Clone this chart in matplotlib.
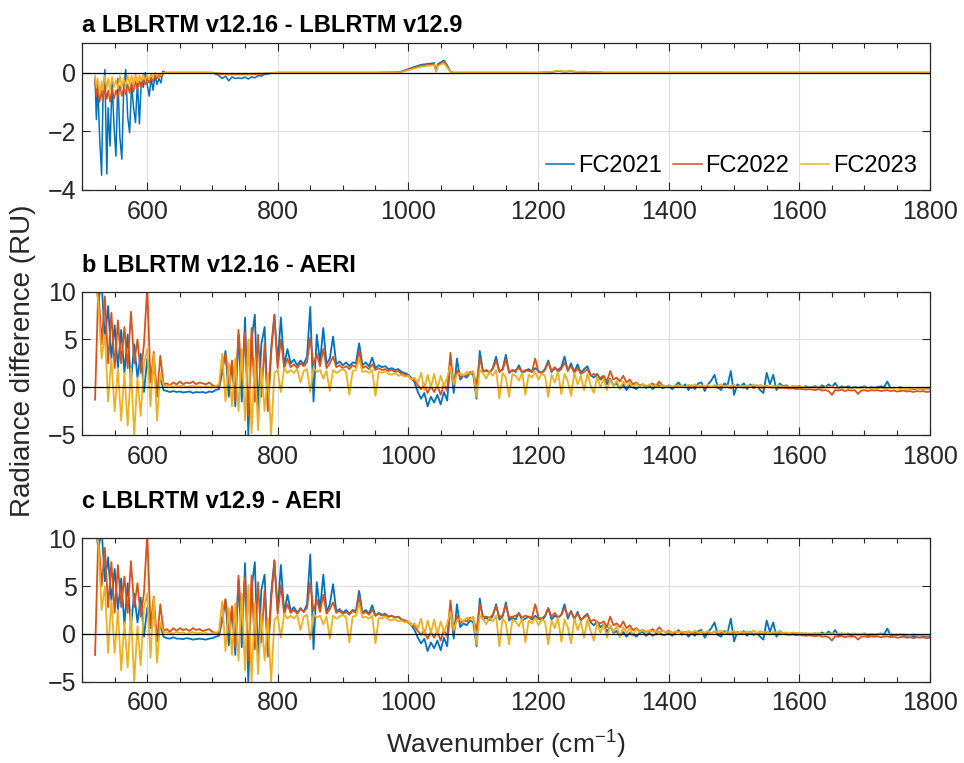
"""
Radiance differences between LBLRTM versions and AERI observations
for three field campaigns (FC2021, FC2022, FC2023).
"""

import numpy as np
import matplotlib
matplotlib.use("Agg")
import matplotlib.pyplot as plt
from matplotlib.ticker import MultipleLocator

plt.rcParams["font.family"] = ["Liberation Sans", "DejaVu Sans"]
plt.rcParams["mathtext.fontset"] = "custom"
plt.rcParams["mathtext.rm"] = "Liberation Sans"
plt.rcParams["mathtext.it"] = "Liberation Sans"

CAMPAIGNS = ["FC2021", "FC2022", "FC2023"]
COLORS = ["#0072BD", "#D95319", "#EDB120"]

# ── panel a: LBLRTM v12.16 - LBLRTM v12.9 ───────────────────────────────────
wn_a = [
    520, 522, 524, 527, 530, 532, 535, 538, 540, 543,
    546, 549, 552, 555, 558, 561, 564, 567, 570, 573,
    576, 579, 582, 585, 588, 591, 594, 597, 600, 603,
    606, 609, 612, 615, 618, 621, 624, 628, 640, 660,
    680, 700, 705, 710, 715, 720, 725, 730, 735, 740,
    745, 750, 755, 760, 765, 770, 775, 780, 785, 790,
    795, 800, 850, 900, 950, 980, 990, 1000, 1010, 1020,
    1030, 1035, 1040, 1043, 1046, 1050, 1055, 1060, 1065, 1070,
    1100, 1150, 1200, 1220, 1230, 1240, 1250, 1260, 1270, 1280,
    1290, 1300, 1350, 1400, 1500, 1600, 1700, 1800,
]
fc2021_a = [
    -0.2, -1.6, -0.4, -2.2, -3.5, -1.0, 0.1, -3.45, -1.2, -2.5,
    -0.3, -1.8, -2.85, -0.2, -2.2, -2.95, -0.5, 0.1, -1.5, -2.05,
    -0.4, -1.2, -1.7, -0.3, -1.75, -0.2, -0.5, 0.0, -0.4, -0.8,
    -0.2, -0.6, -0.1, -0.4, -0.2, -0.35, 0.05, 0.0, 0.0, 0.0,
    0.0, 0.0, -0.05, -0.1, -0.2, -0.12, -0.28, -0.15, -0.2, -0.18,
    -0.2, -0.15, -0.22, -0.14, -0.18, -0.1, -0.12, -0.06, -0.05, -0.02,
    -0.01, 0.0, 0.0, 0.0, 0.0, 0.01, 0.04, 0.12, 0.2, 0.27,
    0.3, 0.31, 0.33, 0.05, 0.3, 0.35, 0.42, 0.25, 0.03, 0.0,
    0.0, 0.0, 0.0, 0.02, 0.06, 0.03, 0.05, 0.02, 0.03, 0.01,
    0.02, 0.0, 0.0, 0.0, 0.0, 0.0, 0.0, 0.0,
]
fc2022_a = [
    -0.3, -0.8, -0.5, -1.0, -0.6, -0.95, -0.5, -0.9, -0.6, -1.0,
    -0.5, -0.9, -0.6, -0.85, -0.45, -0.8, -0.5, -0.75, -0.4, -0.7,
    -0.35, -0.65, -0.3, -0.55, -0.3, -0.5, -0.25, -0.4, -0.2, -0.35,
    -0.15, -0.3, -0.1, -0.2, -0.1, -0.15, -0.05, 0.0, 0.0, 0.0,
    0.0, 0.0, -0.02, -0.04, -0.06, -0.05, -0.07, -0.06, -0.07, -0.06,
    -0.07, -0.06, -0.07, -0.05, -0.06, -0.04, -0.05, -0.03, -0.02, -0.01,
    0.0, 0.0, 0.0, 0.0, 0.0, 0.01, 0.03, 0.1, 0.17, 0.23,
    0.26, 0.27, 0.29, 0.04, 0.26, 0.3, 0.36, 0.2, 0.02, 0.0,
    0.0, 0.0, 0.0, 0.02, 0.05, 0.03, 0.04, 0.02, 0.03, 0.01,
    0.02, 0.0, 0.0, 0.0, 0.0, 0.0, 0.0, 0.0,
]
fc2023_a = [
    -0.1, -0.5, -0.2, -0.7, -0.3, -0.6, -0.1, -0.55, -0.2, -0.6,
    -0.15, -0.5, -0.25, -0.55, -0.1, -0.5, -0.2, -0.45, -0.1, -0.4,
    -0.1, -0.4, -0.05, -0.35, -0.1, -0.3, -0.05, -0.25, -0.1, -0.2,
    -0.05, -0.15, 0.0, -0.1, -0.05, -0.08, 0.0, 0.0, 0.0, 0.0,
    0.0, 0.0, -0.01, -0.02, -0.03, -0.03, -0.04, -0.03, -0.04, -0.03,
    -0.04, -0.03, -0.04, -0.03, -0.03, -0.02, -0.03, -0.02, -0.01, -0.01,
    0.0, 0.0, 0.0, 0.0, 0.0, 0.01, 0.02, 0.08, 0.14, 0.2,
    0.23, 0.24, 0.26, 0.03, 0.23, 0.27, 0.32, 0.18, 0.02, 0.0,
    0.0, 0.0, 0.0, 0.03, 0.07, 0.04, 0.06, 0.03, 0.04, 0.02,
    0.02, 0.0, 0.0, 0.0, 0.0, 0.0, 0.0, 0.0,
]

# ── panels b and c share one 5 cm-1 grid, 520-1800 cm-1 ────────────────────
wn_bc = np.arange(520, 1801, 5)

# b: LBLRTM v12.16 - AERI   (one row = 100 cm-1)
fc2021_b = [
    12.0, 9.0, 11.0, 5.0, 8.5, 3.0, 6.5, 2.0, 6.0, 1.5, 5.5, 0.5, 4.5, 1.0, 3.5, -0.5, 3.0, 0.5, 2.0, -0.5,
    1.0, -0.3, -0.4, -0.5, -0.4, -0.5, -0.45, -0.55, -0.5, -0.45, -0.6, -0.5, -0.55, -0.5, -0.6, -0.45, -0.5, -0.3, -0.2, 1.5,
    3.8, -1.0, 2.5, -2.0, 5.5, -1.5, 7.3, -5.0, 5.0, 7.6, -2.6, 4.5, 6.3, -2.0, 4.0, 7.6, 2.5, 7.3, 2.3, 4.0,
    2.5, 2.9, 2.3, 2.8, 2.4, 3.2, 8.4, -1.5, 5.5, 2.6, 6.2, 2.4, 3.0, 5.3, 2.4, 2.7, 2.3, 2.6, 2.2, 2.6,
    2.5, 4.6, 2.3, 2.6, 2.2, 3.1, 2.0, 2.3, 2.1, 2.2, 1.9, 2.0, 1.8, 1.9, 1.6, 1.5, 1.3, 1.0, 0.5, -0.5,
    -1.2, -0.6, -2.0, -1.0, -1.6, -0.8, -1.8, -0.5, -1.4, 2.8, -0.6, 3.0, 0.8, 1.2, 1.0, 1.5, 1.3, -1.2, 3.8, 1.6,
    1.8, 1.5, 2.0, 3.2, 1.6, 1.9, 3.4, 1.5, 1.8, 1.6, 2.3, 1.5, 1.7, 1.9, 1.6, 2.0, 1.7, 1.5, 1.9, 2.8,
    1.6, 2.0, 1.8, 2.1, 3.2, 1.7, 2.5, 1.6, 2.4, 1.5, 1.9, 2.2, 1.3, 1.0, 1.4, 0.8, 1.1, 0.3, 0.9, 0.2,
    0.4, -0.2, 0.3, -0.3, 0.2, 0.0, -0.2, 0.1, 0.3, -0.1, 0.2, -0.2, 0.1, 0.2, -0.1, 0.0, 0.1, -0.2, 0.2, 0.5,
    0.0, 0.3, -0.3, 0.2, -0.2, 0.4, 0.5, -0.4, 0.3, 0.7, 1.3, 0.0, -0.3, 0.4, 0.2, 1.7, -0.8, 0.3, 0.1, 0.4,
    -0.2, 0.3, 0.0, 0.2, -0.3, -0.6, 1.5, 0.3, 1.3, -0.3, 0.4, 0.1, 0.2, 0.0, 0.1, 0.05, 0.1, 0.0, 0.1, 0.0,
    0.05, 0.1, -0.05, 0.2, 0.0, 0.3, 0.0, 0.45, -0.1, 0.1, 0.0, 0.1, -0.1, 0.05, -0.05, 0.0, 0.1, -0.1, 0.0, -0.05,
    0.0, 0.1, 0.0, 0.6, -0.1, -0.05, -0.1, 0.0, -0.1, -0.15, -0.1, -0.2, -0.15, -0.1, -0.2, -0.15, -0.2,
]
fc2022_b = [
    -1.3, 10.5, 4.5, 9.5, 2.5, 7.8, 2.0, 7.0, 2.5, 6.3, 2.0, 7.9, 2.5, 5.0, 1.5, 4.5, 10.5, 0.5, 3.7, -1.0,
    3.3, 0.3, 0.4, 0.2, 0.5, 0.3, 0.6, 0.3, 0.5, 0.4, 0.6, 0.3, 0.5, 0.4, 0.3, 0.5, 0.2, 0.1, 0.0, 2.0,
    3.5, 0.5, 2.8, -1.5, 6.0, 1.0, 5.8, -3.0, 6.2, -1.5, 5.5, -1.0, 4.5, -2.5, 3.5, 7.5, 2.0, 5.0, 2.0, 3.0,
    2.1, 2.4, 2.0, 2.5, 2.2, 2.6, 5.2, 2.3, 3.5, 2.2, 4.0, 2.0, 2.5, 3.2, 2.1, 2.3, 2.0, 2.2, 1.9, 2.3,
    2.1, 3.8, 2.0, 2.2, 1.9, 2.4, 1.8, 2.0, 1.8, 1.9, 1.7, 1.8, 1.6, 1.7, 1.4, 1.3, 1.2, 0.9, 0.7, 0.2,
    -0.2, 0.3, -0.6, 0.1, -0.5, 0.2, -0.8, 0.3, -0.4, 3.6, 0.2, 1.8, 1.0, 1.3, 1.2, 1.6, 1.5, 0.3, 3.0, 1.7,
    1.7, 1.6, 1.9, 2.8, 1.7, 1.8, 2.9, 1.6, 1.7, 1.8, 2.0, 1.6, 1.8, 1.7, 1.6, 3.0, 1.6, 1.5, 1.8, 2.6,
    1.7, 2.1, 1.6, 1.9, 2.6, 1.8, 2.2, 1.5, 2.0, 1.4, 1.6, 1.9, 1.2, 1.4, 1.1, 1.0, 1.2, 0.6, 1.7, 0.8,
    1.0, 0.6, 1.2, 0.5, 0.8, 0.3, 0.5, 0.2, 0.3, 0.1, 0.2, 0.4, 0.1, 0.6, 0.2, 0.1, 0.2, 0.0, 0.1, 0.2,
    0.1, 0.0, 0.2, -0.1, 0.1, 0.0, 0.15, -0.1, 0.1, 0.0, 0.2, -0.1, 0.05, 0.1, 0.0, -0.1, 0.1, 0.0, 0.05, -0.05,
    0.0, 0.1, -0.1, 0.05, 0.0, -0.1, 0.1, 0.0, -0.05, 0.0, -0.1, -0.05, -0.1, -0.15, -0.1, -0.2, -0.15, -0.2, -0.25, -0.2,
    -0.25, -0.3, -0.2, -0.35, -0.3, -0.4, -0.8, -0.3, -0.35, -0.25, -0.4, -0.3, -0.35, -0.3, -0.7, -0.35, -0.3, -0.4, -0.3, -0.35,
    -0.3, -0.4, -0.35, -0.3, -0.4, -0.35, -0.45, -0.4, -0.35, -0.45, -0.4, -0.5, -0.4, -0.45, -0.4, -0.5, -0.45,
]
fc2023_b = [
    11.0, 9.0, 3.0, 5.5, -1.5, 3.0, -2.5, 2.0, -3.5, 1.5, -4.0, 2.0, -5.0, 1.0, -3.0, 2.5, 4.0, -2.0, 3.5, -3.5,
    1.5, 0.2, 0.1, 0.2, 0.0, 0.15, 0.1, 0.2, 0.0, 0.1, 0.15, 0.05, 0.1, 0.0, 0.1, 0.05, 0.0, 0.1, 0.3, 3.5,
    -1.5, 2.5, -2.0, 3.0, -2.5, 4.0, -3.5, 5.0, -4.8, 3.0, -4.5, 2.0, -2.5, 1.5, -5.0, 1.5, 1.8, -0.5, 2.0, 1.5,
    1.8, 1.5, 1.9, 0.5, 1.7, 1.9, -0.5, 2.0, 1.6, 1.8, 0.9, 1.7, -0.4, 1.8, 1.5, 1.7, 1.9, 1.6, -0.8, 1.7,
    1.8, 3.0, 1.6, 1.7, 1.5, 1.8, -0.9, 1.6, 1.5, 1.7, 1.4, 1.3, 1.5, 1.2, 1.3, 1.1, 1.2, 0.8, 1.0, 0.5,
    1.5, -0.3, 1.3, 0.0, 1.4, -0.2, 1.2, 0.1, 1.0, 2.2, 0.3, 1.3, 1.5, 1.2, 1.6, 1.4, 1.7, -1.0, 1.8, 1.5,
    0.9, 1.6, 1.2, 1.8, -1.2, 1.5, 1.0, -1.0, 1.4, 1.2, 0.7, 1.5, -0.8, 1.3, 1.0, 1.6, 0.8, 1.4, 1.2, -1.0,
    1.3, 0.5, 1.6, -0.7, 1.4, 0.6, -0.9, 1.5, 0.3, 1.2, -0.3, 1.4, 0.2, -0.6, 1.1, 0.0, 0.9, -0.3, 0.8, 0.1,
    0.7, -0.2, 0.6, 0.0, 0.5, -0.1, 0.4, 0.1, 0.3, 0.0, 0.3, 0.1, 0.2, 0.0, 0.2, 0.1, 0.15, 0.05, 0.2, 0.1,
    0.2, 0.0, 0.25, 0.1, 0.3, 0.05, 0.2, 0.1, 0.25, 0.0, 0.2, 0.15, 0.3, 0.05, 0.2, 0.1, 0.25, 0.0, 0.15, 0.1,
    0.2, 0.1, 0.3, 0.05, 0.25, 0.1, 0.2, 0.0, 0.15, 0.1, 0.2, 0.05, 0.1, 0.0, 0.1, 0.05, 0.0, 0.05, -0.05, 0.0,
    0.0, -0.05, 0.05, -0.1, 0.0, -0.05, 0.05, -0.1, 0.0, -0.05, 0.0, -0.1, -0.05, 0.0, -0.1, -0.05, 0.0, -0.1, -0.05, -0.1,
    -0.1, -0.05, -0.15, -0.1, -0.05, -0.15, -0.1, -0.2, -0.1, -0.15, -0.2, -0.1, -0.15, -0.2, -0.15, -0.2, -0.2,
]

# c: LBLRTM v12.9 - AERI
fc2021_c = [
    12.0, 8.8, 11.0, 5.5, 8.0, 3.5, 6.8, 2.5, 5.8, 1.0, 5.3, 0.8, 4.2, 1.2, 3.8, -0.3, 2.8, 0.6, 2.2, -0.4,
    0.9, -0.3, -0.45, -0.5, -0.35, -0.5, -0.5, -0.55, -0.45, -0.5, -0.6, -0.55, -0.5, -0.55, -0.6, -0.5, -0.45, -0.3, -0.2, 1.4,
    3.6, -1.2, 2.7, -2.2, 5.6, -1.4, 7.4, -5.0, 4.8, 7.5, -2.8, 4.6, 6.2, -2.2, 4.2, 7.7, 2.4, 7.2, 2.2, 4.1,
    2.4, 2.8, 2.2, 2.7, 2.3, 3.1, 8.3, -1.6, 5.4, 2.5, 6.2, 2.3, 3.1, 5.2, 2.3, 2.6, 2.2, 2.5, 2.1, 2.5,
    2.4, 4.5, 2.2, 2.5, 2.1, 3.0, 1.9, 2.2, 2.0, 2.1, 1.8, 1.9, 1.7, 1.8, 1.5, 1.4, 1.2, 0.9, 0.4, -0.4,
    -1.0, -0.5, -1.8, -0.9, -1.5, -0.7, -1.7, -0.4, -1.3, 2.9, -0.5, 3.1, 0.7, 1.1, 0.9, 1.4, 1.2, -1.3, 3.7, 1.5,
    1.7, 1.4, 1.9, 3.1, 1.5, 1.8, 3.3, 1.4, 1.7, 1.5, 2.2, 1.4, 1.6, 1.8, 1.5, 1.9, 1.6, 1.4, 1.8, 2.7,
    1.5, 1.9, 1.7, 2.0, 3.1, 1.6, 2.4, 1.5, 2.3, 1.4, 1.8, 2.1, 1.2, 0.9, 1.3, 0.7, 1.0, 0.2, 0.8, 0.1,
    0.3, -0.3, 0.2, -0.3, 0.1, 0.0, -0.3, 0.1, 0.2, -0.2, 0.1, -0.2, 0.0, 0.2, -0.1, -0.1, 0.1, -0.2, 0.1, 0.4,
    -0.1, 0.2, -0.3, 0.1, -0.2, 0.3, 0.4, -0.4, 0.2, 0.6, 1.2, -0.1, -0.3, 0.3, 0.1, 1.6, -0.8, 0.2, 0.0, 0.3,
    -0.2, 0.2, -0.1, 0.1, -0.3, -0.6, 1.4, 0.2, 1.2, -0.3, 0.3, 0.0, 0.1, -0.05, 0.05, 0.0, 0.05, -0.05, 0.05, -0.05,
    0.0, 0.05, -0.1, 0.15, -0.05, 0.25, -0.05, 0.4, -0.15, 0.05, -0.05, 0.05, -0.15, 0.0, -0.1, -0.05, 0.05, -0.15, -0.05, -0.1,
    -0.05, 0.05, -0.05, 0.55, -0.15, -0.1, -0.15, -0.05, -0.15, -0.2, -0.15, -0.25, -0.2, -0.15, -0.25, -0.2, -0.25,
]
fc2022_c = [
    -2.2, 10.5, 5.0, 9.0, 2.8, 7.5, 2.2, 7.2, 2.8, 6.0, 2.2, 7.6, 2.8, 5.3, 1.8, 4.3, 10.5, 0.8, 3.9, -0.8,
    3.1, 0.3, 0.5, 0.2, 0.6, 0.3, 0.6, 0.4, 0.5, 0.3, 0.6, 0.4, 0.5, 0.3, 0.4, 0.5, 0.2, 0.1, 0.05, 1.8,
    3.6, 0.4, 2.9, -1.4, 6.1, 1.1, 5.9, -2.8, 6.1, -1.6, 5.4, -0.9, 4.6, -2.4, 3.4, 7.6, 2.1, 5.1, 2.1, 3.1,
    2.2, 2.5, 2.1, 2.6, 2.3, 2.7, 5.4, 2.4, 3.6, 2.3, 4.1, 2.1, 2.6, 3.3, 2.2, 2.4, 2.1, 2.3, 2.0, 2.4,
    2.2, 3.9, 2.1, 2.3, 2.0, 2.5, 1.9, 2.1, 1.9, 2.0, 1.8, 1.9, 1.7, 1.8, 1.5, 1.4, 1.3, 1.0, 0.8, 0.3,
    -0.1, 0.4, -0.5, 0.2, -0.4, 0.3, -0.7, 0.4, -0.3, 3.5, 0.3, 1.9, 1.1, 1.4, 1.3, 1.7, 1.6, 0.4, 3.1, 1.8,
    1.8, 1.7, 2.0, 2.9, 1.8, 1.9, 3.0, 1.7, 1.8, 1.9, 2.1, 1.7, 1.9, 1.8, 1.7, 3.1, 1.7, 1.6, 1.9, 2.7,
    1.8, 2.2, 1.7, 2.0, 2.7, 1.9, 2.3, 1.6, 2.1, 1.5, 1.7, 2.0, 1.3, 1.5, 1.2, 1.1, 1.3, 0.7, 1.8, 0.9,
    1.1, 0.7, 1.3, 0.6, 0.9, 0.4, 0.6, 0.3, 0.4, 0.2, 0.3, 0.5, 0.2, 0.7, 0.3, 0.2, 0.3, 0.1, 0.2, 0.3,
    0.15, 0.05, 0.25, -0.05, 0.15, 0.05, 0.2, -0.05, 0.15, 0.05, 0.25, -0.05, 0.1, 0.15, 0.05, -0.05, 0.15, 0.05, 0.1, 0.0,
    0.05, 0.15, -0.05, 0.1, 0.05, -0.05, 0.15, 0.05, 0.0, 0.05, -0.05, 0.0, -0.05, -0.1, -0.05, -0.15, -0.1, -0.15, -0.2, -0.15,
    -0.2, -0.25, -0.15, -0.3, -0.25, -0.35, -0.7, -0.25, -0.3, -0.2, -0.35, -0.25, -0.3, -0.25, -0.6, -0.3, -0.25, -0.35, -0.25, -0.3,
    -0.25, -0.35, -0.3, -0.25, -0.35, -0.3, -0.4, -0.35, -0.3, -0.4, -0.35, -0.45, -0.35, -0.4, -0.35, -0.45, -0.4,
]
fc2023_c = [
    11.0, 9.5, 2.5, 5.0, -2.0, 3.5, -2.0, 2.5, -3.8, 1.2, -3.5, 2.3, -5.0, 0.8, -3.3, 2.8, 4.2, -2.5, 3.8, -3.0,
    1.3, 0.2, 0.15, 0.1, 0.05, 0.2, 0.1, 0.15, 0.0, 0.1, 0.2, 0.05, 0.1, 0.05, 0.1, 0.0, 0.05, 0.1, 0.3, 3.4,
    -1.8, 2.7, -2.2, 3.2, -2.8, 4.2, -3.8, 5.1, -5.0, 3.2, -4.2, 2.1, -2.8, 1.6, -5.0, 1.4, 1.9, -0.4, 2.1, 1.6,
    1.9, 1.6, 2.0, 0.4, 1.8, 2.0, -0.6, 2.1, 1.7, 1.9, 1.0, 1.8, -0.5, 1.9, 1.6, 1.8, 2.0, 1.7, -0.9, 1.8,
    1.9, 3.1, 1.7, 1.8, 1.6, 1.9, -1.0, 1.7, 1.6, 1.8, 1.5, 1.4, 1.6, 1.3, 1.4, 1.2, 1.3, 0.9, 1.1, 0.6,
    1.6, -0.2, 1.4, 0.1, 1.5, -0.1, 1.3, 0.2, 1.1, 2.3, 0.4, 1.4, 1.6, 1.3, 1.7, 1.5, 1.8, -1.1, 1.9, 1.6,
    1.0, 1.7, 1.3, 1.9, -1.3, 1.6, 1.1, -1.1, 1.5, 1.3, 0.8, 1.6, -0.9, 1.4, 1.1, 1.7, 0.9, 1.5, 1.3, -1.1,
    1.4, 0.6, 1.7, -0.8, 1.5, 0.7, -1.0, 1.6, 0.4, 1.3, -0.4, 1.5, 0.3, -0.7, 1.2, 0.1, 1.0, -0.4, 0.9, 0.2,
    0.8, -0.3, 0.7, 0.1, 0.6, -0.2, 0.5, 0.2, 0.4, 0.1, 0.4, 0.2, 0.3, 0.1, 0.3, 0.2, 0.2, 0.1, 0.25, 0.15,
    0.25, 0.05, 0.3, 0.15, 0.35, 0.1, 0.25, 0.15, 0.3, 0.05, 0.25, 0.2, 0.35, 0.1, 0.25, 0.15, 0.3, 0.05, 0.2, 0.15,
    0.25, 0.15, 0.35, 0.1, 0.3, 0.15, 0.25, 0.05, 0.2, 0.15, 0.25, 0.1, 0.15, 0.05, 0.15, 0.1, 0.05, 0.1, 0.0, 0.05,
    0.05, 0.0, 0.1, -0.05, 0.05, 0.0, 0.1, -0.05, 0.05, 0.0, 0.05, -0.05, 0.0, 0.05, -0.05, 0.0, 0.05, -0.05, 0.0, -0.05,
    -0.05, 0.0, -0.1, -0.05, 0.0, -0.1, -0.05, -0.15, -0.05, -0.1, -0.15, -0.05, -0.1, -0.15, -0.1, -0.15, -0.15,
]

TEXT_COLOR = "#262626"

# axes boxes in figure fractions (left, bottom, width, height)
AX_BOXES = [
    (0.0851, 0.7510, 0.8793, 0.1923),
    (0.0851, 0.4299, 0.8793, 0.1878),
    (0.0851, 0.1066, 0.8793, 0.1879),
]
TITLES = [
    ("a LBLRTM v12.16 - LBLRTM v12.9", 32),
    ("b LBLRTM v12.16 - AERI", 272),
    ("c LBLRTM v12.9 - AERI", 508),
]


def style_axes(ax, ylim, yticks):
    ax.set_xlim(500, 1800)
    ax.set_ylim(*ylim)
    ax.set_xticks(range(600, 1801, 200))
    ax.xaxis.set_minor_locator(MultipleLocator(50))
    ax.set_yticks(yticks)
    ax.tick_params(which="both", direction="in", top=True, right=True,
                   colors=TEXT_COLOR, labelsize=18, width=0.8)
    ax.tick_params(which="major", length=6)
    ax.tick_params(which="minor", length=3.5)
    ax.tick_params(axis="x", pad=7)
    ax.tick_params(axis="y", pad=4)
    ax.grid(True, which="major", color="#dedede", linewidth=0.8)
    ax.set_axisbelow(True)
    for sp in ax.spines.values():
        sp.set_color(TEXT_COLOR)
        sp.set_linewidth(0.9)


def main():
    fig = plt.figure(figsize=(9.64, 7.63), dpi=100)
    axes = [fig.add_axes(box) for box in AX_BOXES]

    panels = [
        (wn_a, [fc2021_a, fc2022_a, fc2023_a], (-4, 1), [-4, -2, 0], 1.1),
        (wn_bc, [fc2021_b, fc2022_b, fc2023_b], (-5, 10), [-5, 0, 5, 10], 1.3),
        (wn_bc, [fc2021_c, fc2022_c, fc2023_c], (-5, 10), [-5, 0, 5, 10], 1.3),
    ]
    for ax, (wn, series, ylim, yticks, lw) in zip(axes, panels):
        for vals, color, name in zip(series, COLORS, CAMPAIGNS):
            ax.plot(wn, vals, color=color, linewidth=lw, label=name)
        ax.axhline(0, color="black", linewidth=0.9, zorder=5)
        style_axes(ax, ylim, yticks)

    axes[0].legend(loc="lower right", ncol=3, frameon=False, fontsize=17,
                   handlelength=1.2, handletextpad=0.15, columnspacing=0.5,
                   borderaxespad=0.15)

    W, H = 964, 763
    for text, baseline in TITLES:
        fig.text(82 / W, 1 - baseline / H, text, fontsize=17, fontweight="bold",
                 ha="left", va="baseline", color="black")

    fig.text(23 / W, 1 - 361 / H, "Radiance difference (RU)", rotation=90,
             ha="center", va="center", fontsize=20, color=TEXT_COLOR)
    fig.text(506 / W, 1 - 745 / H, r"Wavenumber (cm$^{-1}$)",
             ha="center", va="center", fontsize=19, color=TEXT_COLOR)

    fig.savefig("out.png", dpi=100)


if __name__ == "__main__":
    main()
